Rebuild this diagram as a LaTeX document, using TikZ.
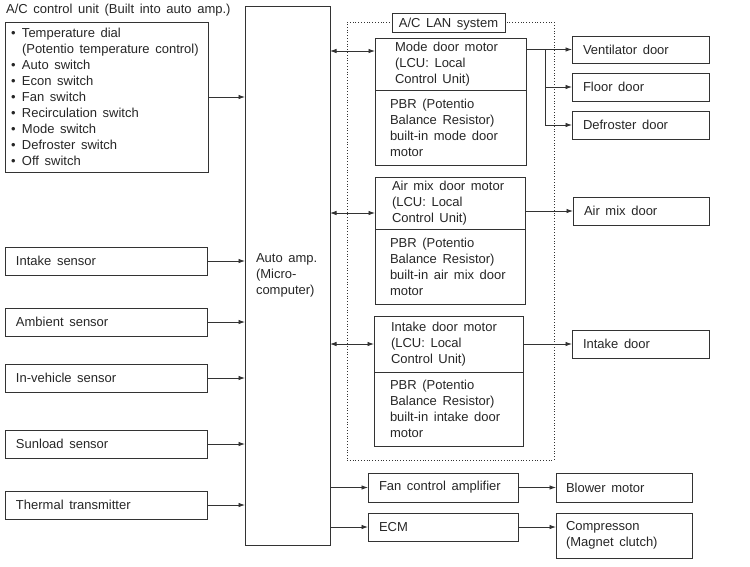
\documentclass[tikz,border=0pt]{standalone}
\usepackage{fontspec}
\setmainfont{Liberation Sans}
\usetikzlibrary{arrows.meta,positioning}
\newcommand{\itembullet}{\makebox[11pt][l]{\textbullet}}

\begin{document}
\begin{tikzpicture}[
        x=1pt, y=-1pt,
        >={Latex[length=6.5pt,width=4.5pt]},
        every node/.style={font=\fontsize{13}{16}\selectfont, text=black!85,
          execute at begin node={\spaceskip=1.55\fontdimen2\font\relax\hyphenpenalty=10000\relax}},
        unit/.style={draw=black!80, line width=1pt, anchor=north west, align=left, inner ysep=0pt, outer sep=0pt},
        lanframe/.style={draw=black!80, dotted, line width=0.8pt, anchor=north west, inner sep=0pt, outer sep=0pt},
        link/.style={draw=black!80, line width=0.8pt, ->},
        both/.style={draw=black!80, line width=0.8pt, <->}
    ]
  \useasboundingbox (0,0) rectangle (750,566);

  % Nodes
  \node[anchor=base west, inner sep=0pt] (title) at (6,13) {A/C control unit (Built into auto amp.)};
  \node[unit, inner xsep=6pt, text width=191pt, minimum height=150pt] (ctrl) at (5,22) {\itembullet Temperature dial\\
    \hspace*{11pt}(Potentio temperature control)\\
    \itembullet Auto switch\\
    \itembullet Econ switch\\
    \itembullet Fan switch\\
    \itembullet Recirculation switch\\
    \itembullet Mode switch\\
    \itembullet Defroster switch\\
    \itembullet Off switch};
  \node[unit, inner xsep=11pt, text width=180pt, minimum height=28pt] (intake) at (5,247) {Intake sensor};
  \node[unit, inner xsep=11pt, text width=180pt, minimum height=28pt] (ambient) at (5,308) {Ambient sensor};
  \node[unit, inner xsep=11pt, text width=180pt, minimum height=28pt] (invehicle) at (5,364) {In-vehicle sensor};
  \node[unit, inner xsep=11pt, text width=180pt, minimum height=28pt] (sunload) at (5,430) {Sunload sensor};
  \node[unit, inner xsep=11pt, text width=180pt, minimum height=28pt] (thermal) at (5,491) {Thermal transmitter};

  \node[unit, inner xsep=11pt, text width=63pt, minimum height=539pt] (amp) at (245,6) {Auto amp.\\(Micro-\\computer)};

  % A/C LAN system
  \node[lanframe, minimum width=207pt, minimum height=438pt] (lan) at (347,22) {};
  \node[unit, fill=white, align=center, inner xsep=0pt, text depth=0pt, minimum width=113pt, minimum height=19pt] (lantitle) at (392,13) {A/C LAN system};

  \node[unit, inner xsep=20pt, text width=111pt, minimum height=52pt] (modelcu) at (375,38) {Mode door motor\\(LCU: Local\\Control Unit)};
  \node[unit, inner xsep=15pt, text width=121pt, minimum height=75pt] (modepbr) at (375,90) {PBR (Potentio\\Balance Resistor)\\built-in mode door\\motor};
  \node[unit, inner xsep=17pt, text width=116pt, minimum height=52pt] (airlcu) at (375,177) {Air mix door motor\\(LCU: Local\\Control Unit)};
  \node[unit, inner xsep=15pt, text width=120pt, minimum height=75pt] (airpbr) at (375,229) {PBR (Potentio\\Balance Resistor)\\built-in air mix door\\motor};
  \node[unit, inner xsep=17pt, text width=115pt, minimum height=56pt] (intlcu) at (374,316) {Intake door motor\\(LCU: Local\\Control Unit)};
  \node[unit, inner xsep=16pt, text width=117pt, minimum height=74pt] (intpbr) at (374,372) {PBR (Potentio\\Balance Resistor)\\built-in intake door\\motor};

  % Doors and actuators
  \node[unit, inner xsep=11pt, text width=115pt, minimum height=27pt] (vent) at (572,36) {Ventilator door};
  \node[unit, inner xsep=11pt, text width=115pt, minimum height=28pt] (floor) at (572,73) {Floor door};
  \node[unit, inner xsep=11pt, text width=115pt, minimum height=28pt] (defr) at (572,111) {Defroster door};
  \node[unit, inner xsep=11pt, text width=114pt, minimum height=28pt] (airdoor) at (573,197) {Air mix door};
  \node[unit, inner xsep=11pt, text width=115pt, minimum height=28pt] (intdoor) at (572,330) {Intake door};
  \node[unit, inner xsep=11pt, text width=128pt, minimum height=29pt] (fan) at (368,473) {Fan control amplifier};
  \node[unit, inner xsep=10pt, text width=116pt, minimum height=29pt] (blower) at (556,473) {Blower motor};
  \node[unit, inner xsep=11pt, text width=128pt, minimum height=28pt] (ecm) at (368,513) {ECM};
  \node[unit, inner xsep=10pt, text width=116pt, minimum height=45pt] (comp) at (556,513) {Compresson\\(Magnet clutch)};

  % Inputs
  \draw[link] (ctrl.east) -- (ctrl.east -| amp.west);
  \foreach \s in {intake,ambient,invehicle,sunload,thermal}
    \draw[link] (\s.east) -- (\s.east -| amp.west);

  % LAN
  \coordinate (modein) at ([yshift=-13pt]modelcu.north west);
  \coordinate (airin) at ([yshift=16pt]airlcu.south west);
  \draw[both] (modein -| amp.east) -- (modein);
  \draw[both] (airin -| amp.east) -- (airin);
  \draw[both] (intlcu.west -| amp.east) -- (intlcu.west);

  % Outputs
  \coordinate (modeout) at (modelcu.east |- vent.west);
  \coordinate (modesplit) at ([xshift=19pt]modeout);
  \draw[link] (modeout) -- (vent.west);
  \draw[link] (modesplit) |- (floor.west);
  \draw[link] (modesplit) |- (defr.west);
  \draw[link] (airdoor.west -| airlcu.east) -- (airdoor.west);
  \draw[link] (intdoor.west -| intlcu.east) -- (intdoor.west);
  \draw[link] (fan.west -| amp.east) -- (fan.west);
  \draw[link] (fan.east) -- (blower.west);
  \draw[link] (ecm.west -| amp.east) -- (ecm.west);
  \draw[link] (ecm.east) -- (ecm.east -| comp.west);
\end{tikzpicture}
\end{document}
